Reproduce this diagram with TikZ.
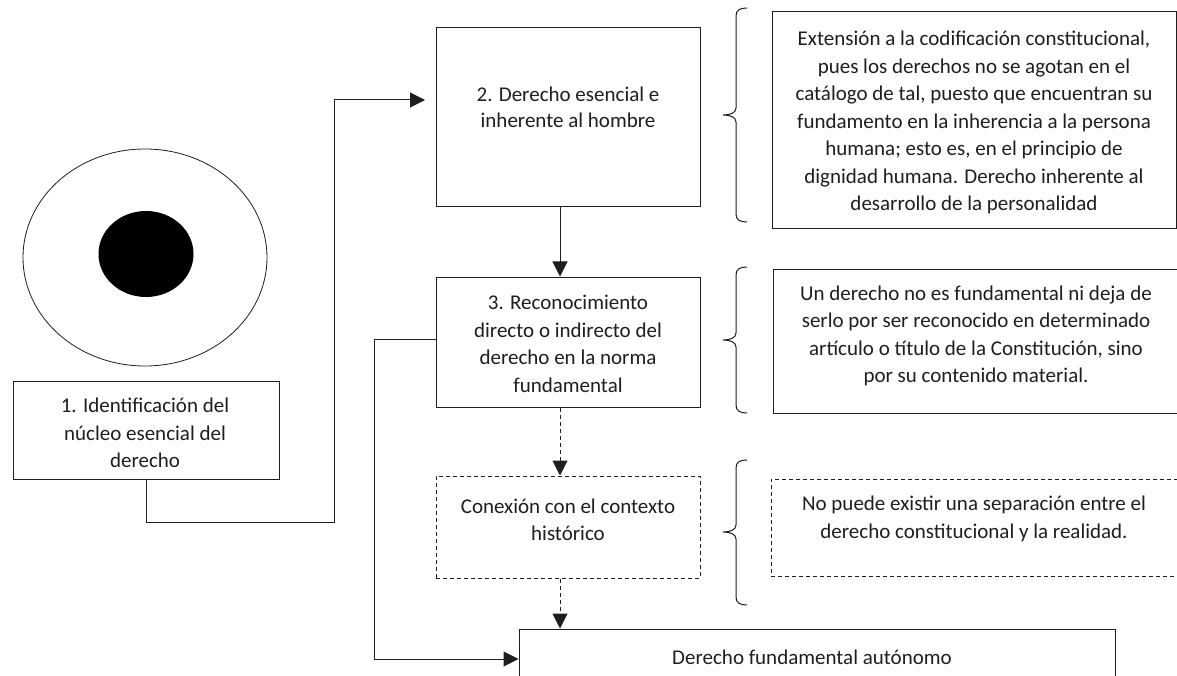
\documentclass[tikz,border=0pt]{standalone}
\usepackage{fontspec}
\setmainfont{Carlito}
\usetikzlibrary{arrows.meta,shapes.geometric}
\definecolor{ink}{HTML}{1E1E1E}
\tikzset{
  box/.style={draw=ink, line width=1pt, rectangle, inner sep=0pt},
  dbox/.style={box, dash pattern=on 4pt off 3pt},
  txt/.style={inner sep=0pt, align=center, text=ink, font=\fontsize{21}{27.5}\selectfont},
  arr/.style={draw=ink, line width=1pt, -{Triangle[length=15pt,width=15pt]}},
  darr/.style={arr, dash pattern=on 4pt off 3pt},
  brace/.style={draw=ink, line width=1pt},
}
\newcommand{\mybrace}[3]{% top, bottom, tip
  \draw[brace] (747,#1) .. controls (740,#1) and (736,#1+2) .. (736,#1+8)
    -- (736,#3-7) .. controls (736,#3-2) and (730,#3) .. (723,#3)
    .. controls (730,#3) and (736,#3+2) .. (736,#3+7)
    -- (736,#2-8) .. controls (736,#2-2) and (740,#2) .. (747,#2);}
\begin{document}
\begin{tikzpicture}[x=1pt,y=-1pt]
\useasboundingbox (0,0) rectangle (1177,676);
% eye
\node[ellipse, draw=ink, line width=0.8pt, minimum width=244pt, minimum height=217pt, inner sep=0pt] (outer) at (145,257.5) {};
\node[ellipse, fill=black, minimum width=95pt, minimum height=86pt, inner sep=0pt] (core) at (146,254) {};
% left column boxes
\node[box, minimum width=266pt, minimum height=98pt] (b1) at (146,430) {};
\node[txt] (b1t) at (145,433) {1. Identificación del\\núcleo esencial del\\derecho};
\node[box, minimum width=264pt, minimum height=179pt] (b2) at (568,117.5) {};
\node[txt, font=\fontsize{21}{26}\selectfont] (b2t) at (568,107) {2. Derecho esencial e\\inherente al hombre};
\node[box, minimum width=264pt, minimum height=130pt] (b3) at (568,342) {};
\node[txt] (b3t) at (568,344) {3. Reconocimiento\\directo o indirecto del\\derecho en la norma\\fundamental};
\node[dbox, minimum width=264pt, minimum height=102pt] (b4) at (568,527) {};
\node[txt] (b4t) at (568,520) {Conexión con el contexto\\histórico};
\node[box, minimum width=596pt, minimum height=91pt] (b5) at (817,674.5) {};
\node[txt] (b5t) at (812,657) {Derecho fundamental autónomo};
% right column
\node[box, minimum width=404pt, minimum height=217pt] (t1) at (974,120.5) {};
\node[txt] (t1t) at (974,122.5) {Extensión a la codificación constitucional,\\pues los derechos no se agotan en el\\catálogo de tal, puesto que encuentran su\\fundamento en la inherencia a la persona\\humana; esto es, en el principio de\\dignidad humana. Derecho inherente al\\desarrollo de la personalidad};
\node[box, minimum width=407pt, minimum height=144pt] (t2) at (976.5,341) {};
\node[txt] (t2t) at (976,336) {Un derecho no es fundamental ni deja de\\serlo por ser reconocido en determinado\\artículo o título de la Constitución, sino\\por su contenido material.};
\node[dbox, minimum width=414pt, minimum height=97pt] (t3) at (978,527.5) {};
\node[txt] (t3t) at (974,519) {No puede existir una separación entre el\\derecho constitucional y la realidad.};
% braces
\mybrace{8}{222}{115}
\mybrace{267}{413}{340}
\mybrace{460}{605}{532}
% connectors
\coordinate (c1) at (334,522);
\coordinate (e2) at (436,100);
\coordinate (a) at (560,0);
\coordinate (c2) at (374,659);
\draw[arr, shorten >=11pt] (b1.south) |- (c1) |- (e2);
\draw[arr] (b2.south -| a) -- (b3.north -| a);
\draw[darr] (b3.south -| a) -- (b4.north -| a);
\draw[darr] (b4.south -| a) -- (b5.north -| a);
\draw[arr] ([yshift=3pt]b3.west) -| (c2) -- (b5.west |- c2);
\end{tikzpicture}
\end{document}
